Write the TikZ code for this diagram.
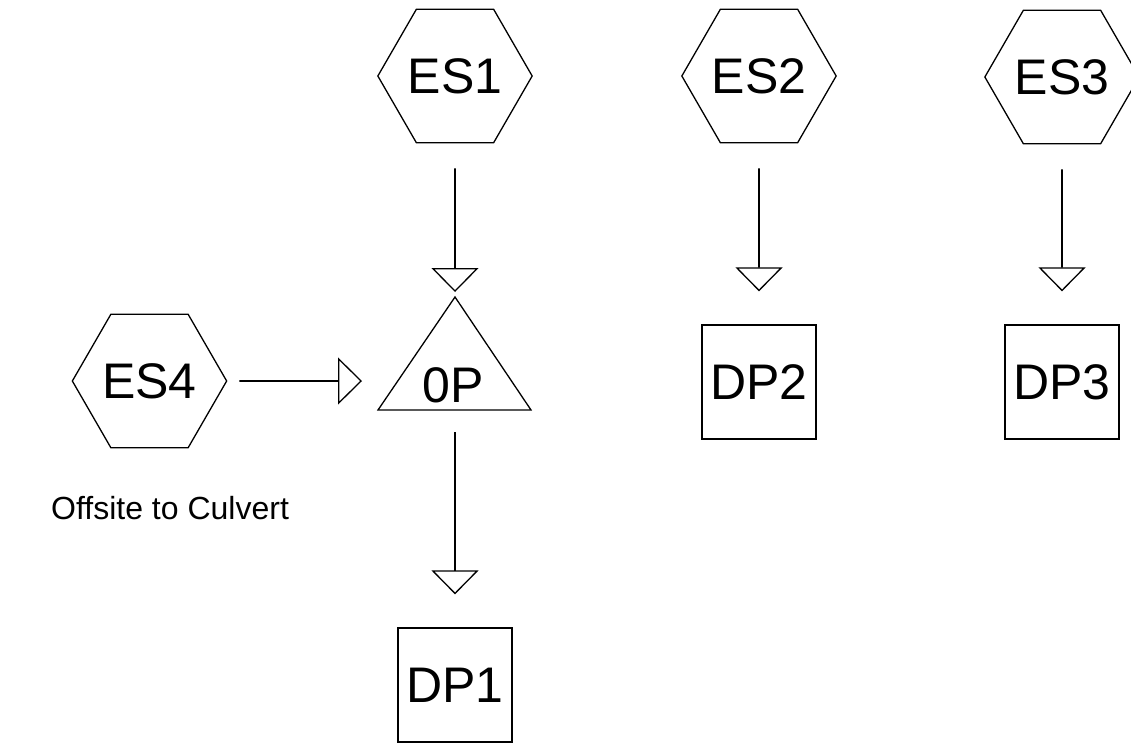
\documentclass[tikz,border=0pt]{standalone}
\usepackage{fontspec}
\setmainfont{Liberation Sans}
\usetikzlibrary{shapes.geometric,arrows.meta}
\begin{document}
\begin{tikzpicture}[x=1pt,y=-1pt,
  hexa/.style={draw, regular polygon, regular polygon sides=6, minimum size=153pt, inner sep=0pt, line width=1.3pt, font=\fontsize{50}{50}\selectfont},
  dpbox/.style={draw, rectangle, minimum width=114pt, minimum height=114pt, inner sep=0pt, line width=1.3pt, font=\fontsize{50}{50}\selectfont},
  flow/.style={line width=1.6pt, -{Triangle[open, length=24pt, width=47pt, line width=1.3pt]}}]
\useasboundingbox (0,0) rectangle (1131,744);

\node[hexa] (es1) at (455,76) {ES1};
\node[hexa] (es2) at (759,76) {ES2};
\node[hexa] (es3) at (1062,77) {ES3};
\node[hexa] (es4) at (149.5,381) {ES4};

\coordinate (opTop) at (455,297);
\coordinate (opBL) at (378,410);
\coordinate (opBR) at (531,410);
\coordinate (opBot) at (455,410);
\coordinate (opW) at (396,381);
\draw[line width=1.3pt, line join=miter] (opBL) -- (opTop) -- (opBR) -- cycle;
\node[font=\fontsize{50}{50}\selectfont, inner sep=0pt] (op) at (453,385) {0P};

\node[dpbox] (dp1) at (455,685) {DP1};
\node[dpbox] (dp2) at (759,382) {DP2};
\node[dpbox] (dp3) at (1062,382) {DP3};

\node[anchor=base west, font=\fontsize{32}{32}\selectfont, inner sep=0pt] (lbl) at (51,519) {Offsite to Culvert};

\draw[flow, shorten <=25pt, shorten >=5pt] (es1.south) -- (opTop);
\draw[flow, shorten <=25pt, shorten >=33pt] (es2.south) -- (dp2.north);
\draw[flow, shorten <=25pt, shorten >=33pt] (es3.south) -- (dp3.north);
\draw[flow, shorten <=12pt, shorten >=34pt] (es4.east) -- (opW);
\draw[flow, shorten <=22pt, shorten >=33pt] (opBot) -- (dp1.north);
\end{tikzpicture}
\end{document}
